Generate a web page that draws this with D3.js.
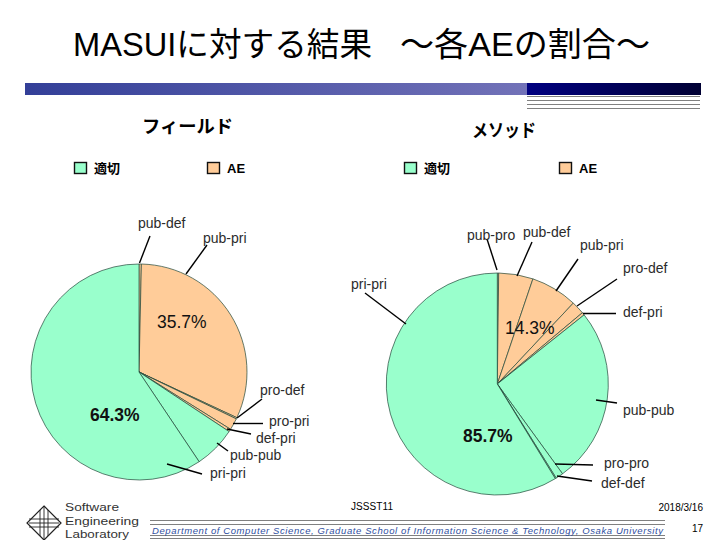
<!DOCTYPE html>
<html>
<head>
<meta charset="utf-8">
<script src="https://cdn.jsdelivr.net/npm/d3@7"></script>
<style>
  html, body { margin: 0; padding: 0; background: #fff; }
  text { font-family: "Liberation Sans", "Noto Sans CJK JP", sans-serif; }
</style>
</head>
<body>
<div id="chart"></div>
<script>
// values are percent of all cases, read clockwise from 12 o'clock
const fieldLabels = ['pub-def', 'pub-pri', 'pro-def', 'pro-pri', 'def-pri', 'pub-pub', 'pri-pri']
const fieldKinds = ['AE', 'AE', 'AE', 'AE', 'AE', 'ok', 'ok']
const fieldValues = [0.35, 31.6, 0.2, 1.75, 0.4, 6.3, 59.4]
const fieldShares = ['35.7%', '64.3%']

const methodLabels = ['pub-pro', 'pub-def', 'pub-pri', 'pro-def', 'def-pri', 'pub-pub', 'pro-pro', 'def-def', 'pri-pri']
const methodKinds = ['AE', 'AE', 'AE', 'AE', 'AE', 'ok', 'ok', 'ok', 'ok']
const methodValues = [0.2, 5.0, 6.8, 1.9, 0.4, 25.7, 1.1, 0.15, 58.75]
const methodShares = ['14.3%', '85.7%']

const legendNames = ['適切', 'AE']

const width = 720
const height = 540
const kindColor = d3.scaleOrdinal().domain(['ok', 'AE']).range(['#99ffcc', '#ffcc99'])

const svg = d3.select('#chart')
  .append('svg')
  .attr('width', width)
  .attr('height', height)
  .style('display', 'block')

const defs = svg.append('defs')

function addGradient(id, from, to) {
  const g = defs.append('linearGradient').attr('id', id)
  g.append('stop').attr('offset', '0%').attr('stop-color', from)
  g.append('stop').attr('offset', '100%').attr('stop-color', to)
}
addGradient('barLight', '#333f98', '#7272b8')
addGradient('barDark', '#000080', '#000033')

// slide title and header bar
svg.append('text')
  .attr('x', 73)
  .attr('y', 56)
  .attr('font-size', 33)
  .attr('textLength', 299)
  .attr('lengthAdjust', 'spacingAndGlyphs')
  .text('MASUIに対する結果')

svg.append('text')
  .attr('x', 400)
  .attr('y', 56)
  .attr('font-size', 33)
  .attr('textLength', 250)
  .attr('lengthAdjust', 'spacingAndGlyphs')
  .text('～各AEの割合～')

svg.append('rect').attr('x', 25).attr('y', 83).attr('width', 502).attr('height', 12).attr('fill', 'url(#barLight)')
svg.append('rect').attr('x', 527).attr('y', 83).attr('width', 174).attr('height', 12).attr('fill', 'url(#barDark)')

svg.selectAll('.headRule')
  .data([96, 100, 104, 108])
  .join('line')
  .attr('x1', 527)
  .attr('x2', 700)
  .attr('y1', d => d + 0.5)
  .attr('y2', d => d + 0.5)
  .attr('stroke', '#808080')

function drawPie(cfg) {
  const g = svg.append('g')

  // heading
  g.append('text')
    .attr('x', cfg.headX)
    .attr('y', cfg.headY)
    .attr('font-size', 18)
    .attr('font-weight', 'bold')
    .attr('textLength', cfg.headWidth)
    .attr('lengthAdjust', 'spacingAndGlyphs')
    .text(cfg.heading)

  // legend
  legendNames.forEach((name, i) => {
    g.append('rect')
      .attr('x', cfg.legendX[i] + 0.5)
      .attr('y', 162.5)
      .attr('width', 12)
      .attr('height', 11)
      .attr('fill', i === 0 ? kindColor('ok') : kindColor('AE'))
      .attr('stroke', '#111')
      .attr('stroke-width', 1.4)
    g.append('text')
      .attr('x', cfg.legendX[i] + 20)
      .attr('y', 173)
      .attr('font-size', 13)
      .attr('font-weight', 'bold')
      .text(name)
  })

  // slices
  const rows = cfg.labels.map((label, i) => ({ label, kind: cfg.kinds[i], value: cfg.values[i] }))
  const pie = d3.pie().sort(null).value(d => d.value)
  const arc = d3.arc().innerRadius(0).outerRadius(cfg.r)

  g.append('g')
    .attr('transform', `translate(${cfg.cx},${cfg.cy})`)
    .selectAll('path')
    .data(pie(rows))
    .join('path')
    .attr('d', arc)
    .attr('fill', d => kindColor(d.data.kind))
    .attr('stroke', '#23473a')
    .attr('stroke-width', 0.7)

  // slice names with their leader lines
  cfg.labels.forEach(label => {
    const c = cfg.callouts[label]
    g.append('line')
      .attr('x1', c.line[0])
      .attr('y1', c.line[1])
      .attr('x2', c.line[2])
      .attr('y2', c.line[3])
      .attr('stroke', '#000')
      .attr('stroke-width', 1.4)
    g.append('text')
      .attr('x', c.text[0])
      .attr('y', c.text[1])
      .attr('font-size', 14)
      .attr('fill', '#2b2b2b')
      .text(label)
  })

  // printed share of each group
  cfg.shareSpots.forEach((s, i) => {
    g.append('text')
      .attr('x', s.x)
      .attr('y', s.y)
      .attr('font-size', 17.5)
      .attr('font-weight', s.weight)
      .attr('fill', '#111')
      .text(cfg.shares[i])
  })
}

drawPie({
  heading: 'フィールド',
  headX: 142,
  headY: 133,
  headWidth: 91,
  legendX: [74, 207],
  cx: 139,
  cy: 372,
  r: 108,
  labels: fieldLabels,
  kinds: fieldKinds,
  values: fieldValues,
  shares: fieldShares,
  shareSpots: [
    { x: 157, y: 328, weight: 'normal' },
    { x: 90, y: 421, weight: 'bold' }
  ],
  callouts: {
    'pub-def': { text: [138, 228], line: [150, 236, 139.5, 263] },
    'pub-pri': { text: [203, 243], line: [207, 245, 186, 274] },
    'pro-def': { text: [260, 395], line: [262, 399, 237, 418] },
    'pro-pri': { text: [269, 426], line: [263, 423.5, 233, 423.5] },
    'def-pri': { text: [256, 443], line: [251, 434, 227, 429] },
    'pub-pub': { text: [230, 460], line: [228, 451, 217, 443] },
    'pri-pri': { text: [210, 478], line: [202, 474, 167, 464] }
  }
})

drawPie({
  heading: 'メソッド',
  headX: 472,
  headY: 137,
  headWidth: 64,
  legendX: [404, 559],
  cx: 497.3,
  cy: 384,
  r: 111,
  labels: methodLabels,
  kinds: methodKinds,
  values: methodValues,
  shares: methodShares,
  shareSpots: [
    { x: 505, y: 334, weight: 'normal' },
    { x: 463, y: 442, weight: 'bold' }
  ],
  callouts: {
    'pub-pro': { text: [467, 240], line: [487, 239, 497, 270] },
    'pub-def': { text: [523, 237], line: [532, 242, 517, 276] },
    'pub-pri': { text: [580, 250], line: [578, 259, 556, 291] },
    'pro-def': { text: [623, 273], line: [617, 279, 577, 306] },
    'def-pri': { text: [623, 317], line: [616, 313.5, 583, 313.5] },
    'pub-pub': { text: [623, 415], line: [617, 403, 596, 400] },
    'pro-pro': { text: [604, 468], line: [593, 465, 555, 464] },
    'def-def': { text: [601, 488], line: [592, 481, 557, 476] },
    'pri-pri': { text: [351, 289], line: [365, 293, 406, 324] }
  }
})

// footer
svg.append('text').attr('x', 351).attr('y', 510).attr('font-size', 10).attr('textLength', 42).text('JSSST11')
svg.append('text').attr('x', 703).attr('y', 511).attr('font-size', 10).attr('text-anchor', 'end').text('2018/3/16')
svg.append('text').attr('x', 692).attr('y', 532).attr('font-size', 10).text('17')

svg.selectAll('.footRule')
  .data([520, 524, 535, 538])
  .join('line')
  .attr('x1', 150)
  .attr('x2', 665)
  .attr('y1', d => d + 0.5)
  .attr('y2', d => d + 0.5)
  .attr('stroke', '#808080')

svg.append('text')
  .attr('x', 152)
  .attr('y', 534)
  .attr('font-size', 9.5)
  .attr('font-style', 'italic')
  .attr('fill', '#2f4f9f')
  .attr('textLength', 511)
  .text('Department of Computer Science, Graduate School of Information Science & Technology, Osaka University')

// lab logo
const logo = svg.append('g').attr('fill', 'none').attr('stroke', '#222').attr('stroke-width', 1.2)
logo.append('path').attr('d', 'M44 506L61 523L44 540L27 523Z')
logo.append('path').attr('d', 'M29 519H59M29 523H59M29 527H59M40 510V536M44 506V540M48 510V536').attr('stroke-width', 0.9)

const logoWords = ['Software', 'Engineering', 'Laboratory']
const logoWidths = [54, 74, 64]
logoWords.forEach((word, i) => {
  svg.append('text')
    .attr('x', 65)
    .attr('y', 511 + i * 13.5)
    .attr('font-size', 11.5)
    .attr('fill', '#333')
    .attr('textLength', logoWidths[i])
    .attr('lengthAdjust', 'spacingAndGlyphs')
    .text(word)
})
</script>
</body>
</html>
